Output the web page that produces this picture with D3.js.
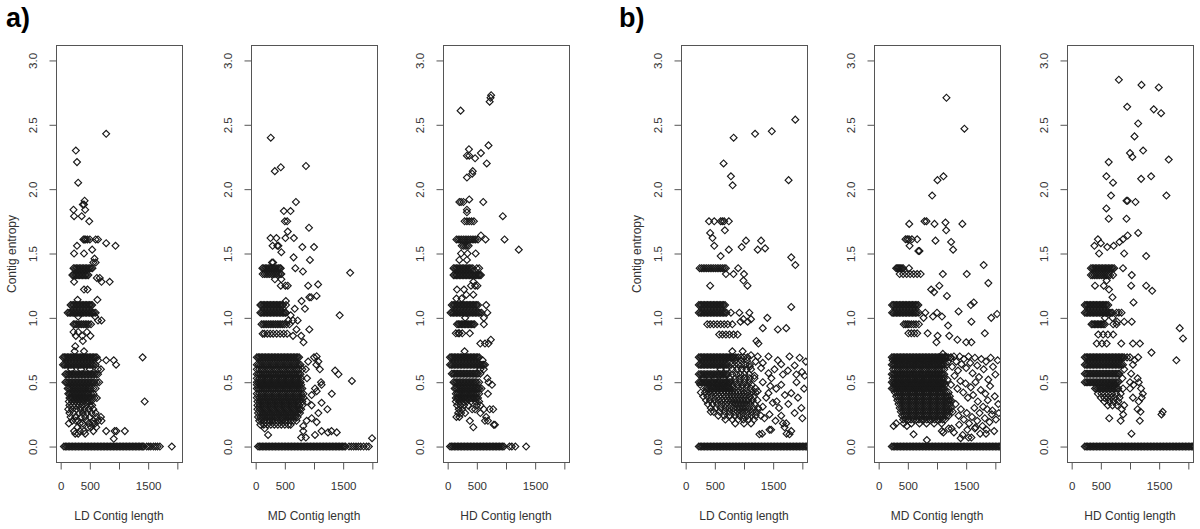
<!DOCTYPE html>
<html><head><meta charset="utf-8">
<script src="https://cdn.jsdelivr.net/npm/d3@7"></script>
<style>body{margin:0;background:#fff}svg{display:block}</style>
</head><body><svg id="c" width="1200" height="529"></svg>
<script>
// ---------- labels / ticks ----------
const groupLabels = ["a)", "b)"];
const xTitles = ["LD Contig length", "MD Contig length", "HD Contig length"];
const yTitle = "Contig entropy";
const xTicks = [0, 500, 1000, 1500, 2000];
const xTickLabels = ["0", "500", "", "1500", ""];
const yTicks = [0, 0.5, 1, 1.5, 2, 2.5, 3];
const yTickLabels = ["0.0", "0.5", "1.0", "1.5", "2.0", "2.5", "3.0"];

// ---------- data: rows of [entropy, [contig lengths]] ----------
const aLD = [
 [0.000,[55,80,105,130,155,180,205,230,255,280,305,330,355,380,405,430,455,480,505,530,555,580,605,630,655,680,705,730,755,780,805,830,855,880,905,930,955,980,1005,1030,1055,1080,1105,1130,1155,1180,1205,1230,1255,1280,1305,1330,1355,1380,1405,1425,1475,1510,1545,1590,1625,1660,1700,1905]],
 [0.06,[910]],
 [0.10,[250,300,420]],
 [0.12,[230,330,400,560,780,925,955,1100]],
 [0.15,[290,470,520,610]],
 [0.18,[140,330,380,480,550,590]],
 [0.20,[200,260,300,440,560,640,700]],
 [0.23,[170,250,350,420,500,620,690]],
 [0.26,[150,220,320,380,450,530,600]],
 [0.29,[130,200,270,340,410,480,560]],
 [0.32,[150,210,260,310,370,430,500,540]],
 [0.35,[140,200,250,300,350,400,460,520,1440]],
 [0.377,[150,175,200,225,250,275,300,325,350,375,400,425,450,475,500,540,580,620]],
 [0.410,[130,155,180,205,230,255,280,305,330,355,380,405,430,455,480,520,560]],
 [0.451,[120,145,170,195,220,245,270,295,320,345,370,395,420,445,470,495,520,560,600]],
 [0.500,[80,105,130,155,180,205,230,255,280,305,330,355,380,405,430,455,480,505,530,555,580,620,660]],
 [0.562,[80,105,130,155,180,205,230,255,280,305,330,355,380,405,430,455,480,505,530,555,580,610,640]],
 [0.60,[180,350,500,640,690]],
 [0.636,[40,65,90,115,140,165,190,215,240,265,290,315,340,365,390,415,440,465,490,515,540,565,600,950]],
 [0.67,[640,780,910]],
 [0.693,[40,65,90,115,140,165,190,215,240,265,290,315,340,365,390,415,440,465,490,515,540,565,590,620,1405]],
 [0.74,[240,400]],
 [0.78,[250]],
 [0.82,[380]],
 [0.86,[260,370,510]],
 [0.89,[220,300,450]],
 [0.950,[220,245,270,300,330,360,390,420,450,480,520]],
 [0.98,[640,700]],
 [1.01,[300,590]],
 [1.040,[120,145,170,195,220,245,270,295,320,345,370,395,420,445,470,495,520,545,570,600]],
 [1.099,[170,195,220,245,270,295,320,345,370,395,420,445,470,495,520,540]],
 [1.14,[290,630]],
 [1.22,[400,460]],
 [1.28,[230,700,840]],
 [1.31,[620,670]],
 [1.332,[200,225,250,275,300,325,350,375,400,425,450,475]],
 [1.386,[220,245,270,295,320,345,370,395,420,445,470,495,520,545]],
 [1.43,[560,600]],
 [1.46,[580]],
 [1.50,[230,400]],
 [1.53,[540]],
 [1.56,[280,940]],
 [1.58,[780]],
 [1.609,[390,410,430,460,500,600,640]],
 [1.75,[490]],
 [1.79,[230,360]],
 [1.84,[220,420]],
 [1.88,[380,400]],
 [1.91,[410]],
 [2.05,[300]],
 [2.21,[280]],
 [2.30,[260]],
 [2.43,[780]]
];

const aMD = [
 [0.000,[40,65,90,115,140,165,190,215,240,265,290,315,340,365,390,415,440,465,490,515,540,565,590,615,640,665,690,715,740,765,790,815,840,865,890,915,940,965,990,1015,1040,1065,1090,1115,1140,1165,1190,1215,1240,1265,1290,1315,1340,1365,1390,1415,1440,1465,1490,1515,1540,1600,1640,1680,1720,1760,1800,1850,1900,1940]],
 [0.065,[1995]],
 [0.07,[780,860]],
 [0.09,[213,1017]],
 [0.11,[1240,1390]],
 [0.12,[816,1130,1300]],
 [0.14,[155]],
 [0.16,[816]],
 [0.17,[80,140,200,260,320,380,440,500,560,600]],
 [0.19,[1046]],
 [0.20,[60,105,150,195,240,285,330,375,420,465,510,555,600,645,700,874]],
 [0.22,[960]],
 [0.23,[40,80,120,160,200,240,280,320,360,400,440,480,520,560,600,640,680,720]],
 [0.26,[40,80,120,160,200,240,280,320,360,400,440,480,520,560,600,640,680,720,760,1075]],
 [0.29,[30,70,110,150,190,230,270,310,350,390,430,470,510,550,590,630,670,710,750,780,1230]],
 [0.32,[30,70,110,150,190,230,270,310,350,390,430,470,510,550,590,630,670,710,750,800,960]],
 [0.34,[1130]],
 [0.35,[30,70,110,150,190,230,270,310,350,390,430,470,510,550,590,630,670,710,750,800,880]],
 [0.38,[20,60,100,140,180,220,260,300,340,380,420,460,500,540,580,620,660,700,740,780,820]],
 [0.40,[960]],
 [0.41,[20,60,100,140,180,220,260,300,340,380,420,460,500,540,580,620,660,700,740,780,820,1305]],
 [0.43,[1046]],
 [0.451,[20,50,80,110,140,170,200,230,260,290,320,350,380,410,440,470,500,530,560,590,620,650,680,710,740,770,800,1017]],
 [0.48,[20,60,100,140,180,220,260,300,340,380,420,460,500,540,580,620,660,700,740,780,1130]],
 [0.500,[20,50,80,110,140,170,200,230,260,290,320,350,380,410,440,470,500,530,560,590,620,650,680,710,740,770,1120]],
 [0.51,[1650]],
 [0.53,[20,60,100,140,180,220,260,300,340,380,420,460,500,540,580,620,660,700,740,780,880]],
 [0.562,[20,50,80,110,140,170,200,230,260,290,320,350,380,410,440,470,500,530,560,590,620,650,680,710,740,770,1420]],
 [0.59,[1362]],
 [0.60,[20,60,100,140,180,220,260,300,340,380,420,460,500,540,580,620,660,700,740,800,860,1100]],
 [0.636,[20,50,80,110,140,170,200,230,260,290,320,350,380,410,440,470,500,530,560,590,620,650,680,710,740,770,1040]],
 [0.66,[900,1075]],
 [0.693,[20,45,70,95,120,145,170,195,220,245,270,295,320,345,370,395,420,445,470,495,520,545,570,595,620,645,670,695,720,745,1000]],
 [0.70,[1046]],
 [0.81,[820]],
 [0.86,[640,780]],
 [0.877,[120,150,200,250,300,360,420,480,540]],
 [0.91,[700,920]],
 [0.950,[100,130,160,190,220,250,280,310,340,370,400,430,460,490,530,580]],
 [0.98,[560,640,720]],
 [1.02,[600,1440]],
 [1.040,[80,105,130,155,180,205,230,255,280,305,330,355,380,405,430,455,480,505,520]],
 [1.07,[670,845]],
 [1.099,[80,105,130,155,180,205,230,255,280,305,330,355,380,405,430,455,470,520]],
 [1.13,[517,787]],
 [1.16,[920,950]],
 [1.17,[1045]],
 [1.25,[430,510,550,900]],
 [1.26,[1070]],
 [1.30,[330,440]],
 [1.34,[120,150,180,210,240,270,300,330,360,390,420,440]],
 [1.35,[1620]],
 [1.36,[810]],
 [1.386,[115,140,165,190,215,240,265,290,315,340,365,390,415,430,680]],
 [1.43,[280,300]],
 [1.45,[930]],
 [1.47,[650]],
 [1.51,[440]],
 [1.55,[800,1000]],
 [1.56,[290,370,390]],
 [1.62,[255,356,510,655]],
 [1.67,[550]],
 [1.70,[914]],
 [1.75,[500,540]],
 [1.83,[483,598]],
 [1.90,[690]],
 [2.14,[328]],
 [2.17,[431]],
 [2.18,[862]],
 [2.40,[259]]
];

const aHD = [
 [0.000,[40,65,90,115,140,165,190,215,240,265,290,315,340,365,390,415,440,465,490,515,540,565,590,615,640,665,690,715,740,765,790,815,840,865,890,915,940,965,1060,1100,1160,1345]],
 [0.15,[440]],
 [0.17,[790,810]],
 [0.20,[380,640,690]],
 [0.23,[150,200,660]],
 [0.26,[180,230,300,560]],
 [0.29,[190,250,420,470,620,720,780]],
 [0.32,[160,220,280,350,500,560]],
 [0.35,[140,200,270,330,400,480,540]],
 [0.377,[140,165,190,215,240,265,290,315,340,365,390,415,440,465,490,520]],
 [0.41,[140,170,200,230,260,290,320,350,380,410,440,470,500,540,690]],
 [0.451,[120,145,170,195,220,245,270,295,320,345,370,395,420,445,470,495,520,545,580]],
 [0.48,[760]],
 [0.500,[100,125,150,175,200,225,250,275,300,325,350,375,400,425,450,475,500,540,700]],
 [0.53,[680]],
 [0.566,[70,95,120,145,170,195,220,245,270,295,320,345,370,395,420,445,470,495,520,560]],
 [0.60,[560,620]],
 [0.636,[40,65,90,115,140,165,190,215,240,265,290,315,340,365,390,415,440,465,490,515,540,565,590,615,640]],
 [0.67,[600]],
 [0.693,[40,65,90,115,140,165,190,215,240,265,290,315,340,365,390,415,440,465,490,515,540]],
 [0.74,[290]],
 [0.80,[560,640,700]],
 [0.83,[740]],
 [0.88,[140,180,200,250,380]],
 [0.950,[160,185,210,235,260,285,310,335,360,385,410,435,460,620]],
 [1.00,[300,620]],
 [1.040,[50,75,100,125,150,175,200,225,250,275,300,325,350,375,400,425,450,475,500,525,550,580,680]],
 [1.099,[70,95,120,145,170,195,220,245,270,295,320,345,370,395,420,445,470,495,520,660]],
 [1.15,[150,240]],
 [1.18,[320,440]],
 [1.22,[160,280]],
 [1.25,[400,470,510]],
 [1.28,[440]],
 [1.332,[100,125,150,175,200,225,250,275,300,325,350,375,400,425,450,475,500,525,550,570]],
 [1.386,[100,125,150,175,200,225,250,275,300,325,350,375,400,430,500,540]],
 [1.45,[200,330]],
 [1.50,[230,340,480]],
 [1.53,[1219]],
 [1.56,[240,270,300,330,360]],
 [1.609,[150,180,210,240,270,300,330,360,390,420,450,480,520,650,975]],
 [1.64,[570]],
 [1.75,[290,330,370,410,450]],
 [1.79,[945]],
 [1.82,[330]],
 [1.84,[330]],
 [1.90,[200,230,270,610]],
 [1.92,[370]],
 [2.09,[330]],
 [2.12,[420]],
 [2.14,[430]],
 [2.20,[670]],
 [2.24,[470]],
 [2.26,[330,370]],
 [2.28,[570]],
 [2.31,[365]],
 [2.34,[700]],
 [2.61,[222]],
 [2.68,[720]],
 [2.71,[735]],
 [2.73,[745]]
];

const bLD = [
 [0.000,[225,250,275,300,325,350,375,400,425,450,475,500,525,550,575,600,625,650,675,700,725,750,775,800,825,850,875,900,925,950,975,1000,1025,1050,1075,1100,1125,1150,1175,1200,1225,1250,1275,1300,1325,1350,1375,1400,1425,1450,1475,1500,1525,1550,1575,1600,1625,1650,1675,1700,1725,1750,1775,1800,1825,1850,1875,1900,1925,1950,1975,2000,2025,2050,2075,2100]],
 [0.18,[850,1000,1120]],
 [0.21,[680,800,900,990,1080,1170]],
 [0.24,[560,660,760,840,920,990,1060,1130,1200,1290]],
 [0.27,[430,480,580,670,750,830,890,950,1010,1070,1140,1210]],
 [0.30,[430,520,600,680,750,820,880,930,980,1030,1090,1160,1240]],
 [0.33,[380,460,540,610,680,740,800,850,900,950,1000,1050,1110,1180]],
 [0.36,[350,420,490,560,620,680,730,780,830,880,930,980,1030,1080,1150,1230]],
 [0.39,[300,370,440,510,570,630,690,740,790,840,890,940,990,1040,1100,1170]],
 [0.42,[260,330,400,460,520,580,640,700,750,800,850,900,950,1000,1060,1130,1200]],
 [0.451,[350,375,400,425,450,475,500,525,550,575,600,625,650,675,700,725,750,775,830,900,970,1040,1120,1200]],
 [0.48,[250,400,540,640,730,810,890,970,1050,1130]],
 [0.500,[225,250,275,300,325,350,375,400,425,450,475,500,525,550,575,600,625,650,675,700,725,750,775,850,930,1010,1090]],
 [0.53,[300,500,650,760,850,930,1010,1100,1180]],
 [0.562,[225,250,275,300,325,350,375,400,425,450,475,500,525,550,575,600,625,650,675,700,725,800,870,940,1010,1090]],
 [0.60,[600,700,800,880,960,1040,1120]],
 [0.636,[225,250,275,300,325,350,375,400,425,450,475,500,525,550,575,600,625,650,675,700,725,780,840,900,960,1030,1100]],
 [0.67,[850,950,1050]],
 [0.693,[225,250,275,300,325,350,375,400,425,450,475,500,525,550,575,600,625,650,675,700,725,750,775,800,825,860,900,950,1000,1060]],
 [0.74,[800]],
 [0.80,[1247]],
 [0.82,[1213]],
 [0.87,[575,630,690,750,820,890]],
 [0.91,[1580]],
 [0.92,[1322,1724]],
 [0.950,[370,420,480,540,600,660,720,800]],
 [0.97,[940,1063]],
 [0.99,[990,1120]],
 [1.00,[1400]],
 [1.040,[225,250,275,300,325,350,375,400,425,450,475,500,525,550,575,600,625,650,675,700,776,920,1092]],
 [1.085,[1810]],
 [1.099,[225,250,275,300,325,350,375,400,425,450,475,500,525,550,575,600,625,650,675]],
 [1.25,[420,1060]],
 [1.29,[990]],
 [1.34,[690,820,1000]],
 [1.386,[240,270,300,330,360,390,420,450,480,510,540,570,600,630,660,690,900]],
 [1.41,[1880]],
 [1.47,[1810]],
 [1.48,[600]],
 [1.53,[740,1235]],
 [1.54,[1362]],
 [1.55,[960]],
 [1.56,[490]],
 [1.60,[1034,1293]],
 [1.62,[460]],
 [1.66,[420]],
 [1.68,[672]],
 [1.75,[400,490,600,630,660,740]],
 [2.03,[805]],
 [2.07,[1764]],
 [2.10,[776]],
 [2.20,[650]],
 [2.40,[822]],
 [2.43,[1190]],
 [2.45,[1477]],
 [2.54,[1879]]
];
// bLD: isolated contigs to the right of the dense core, [length, entropy]
const bLDscatter = [
 [977,0.74],[1120,0.71],[1235,0.70],[1322,0.65],[1420,0.70],[1580,0.67],[1638,0.64],[1780,0.70],
 [1868,0.63],[1954,0.69],[2060,0.66],[1293,0.61],[1420,0.57],[1523,0.60],[1667,0.56],[1753,0.59],
 [1897,0.56],[1994,0.58],[1180,0.55],[1322,0.50],[1470,0.53],[1552,0.45],[1638,0.48],[1810,0.415],
 [1925,0.38],[1983,0.30],[1420,0.415],[1494,0.34],[1380,0.38],[1235,0.43],[1247,0.29],[1350,0.22],
 [1437,0.25],[1322,0.31],[1638,0.24],[1724,0.18],[1868,0.26],[1695,0.15],[1810,0.12],[1465,0.13],
 [1265,0.095],[1310,0.10],[1730,0.10],[1780,0.095],[1667,0.18],[1560,0.35],[1700,0.40],[2030,0.45],
 [1900,0.50],[2040,0.55],[1450,0.47],[1600,0.30],[1540,0.20],[1760,0.33],[2000,0.22],[1100,0.62],
 [1200,0.66],[1437,0.13]
];

const bMD = [
 [0.000,[225,250,275,300,325,350,375,400,425,450,475,500,525,550,575,600,625,650,675,700,725,750,775,800,825,850,875,900,925,950,975,1000,1025,1050,1075,1100,1125,1150,1175,1200,1225,1250,1275,1300,1325,1350,1375,1400,1425,1450,1475,1500,1525,1550,1575,1600,1625,1650,1675,1700,1725,1750,1775,1800,1825,1850,1875,1900,1925,1950,1975,2000,2025,2050,2075,2100]],
 [0.05,[826]],
 [0.095,[598]],
 [0.12,[1083]],
 [0.16,[256,484]],
 [0.18,[300,430,560,700,820,950,1080]],
 [0.21,[420,465,510,555,600,645,690,735,780,825,870,915,960,1005,1050,1095,1140]],
 [0.24,[400,440,480,520,560,600,640,680,720,760,800,840,880,920,960,1000,1040,1080,1120,1160,1200]],
 [0.27,[380,420,460,500,540,580,620,660,700,740,780,820,860,900,940,980,1020,1060,1100,1140,1180,1220]],
 [0.30,[360,400,440,480,520,560,600,640,680,720,760,800,840,880,920,960,1000,1040,1080,1120,1160,1200,1240]],
 [0.33,[340,380,420,460,500,540,580,620,660,700,740,780,820,860,900,940,980,1020,1060,1100,1140,1180,1220]],
 [0.36,[320,360,400,440,480,520,560,600,640,680,720,760,800,840,880,920,960,1000,1040,1080,1120,1160,1200,1240]],
 [0.39,[300,340,380,420,460,500,540,580,620,660,700,740,780,820,860,900,940,980,1020,1060,1100,1140,1180,1220]],
 [0.42,[280,320,360,400,440,480,520,560,600,640,680,720,760,800,840,880,920,960,1000,1040,1080,1120,1160,1200]],
 [0.451,[225,250,275,300,325,350,375,400,425,450,475,500,525,550,575,600,625,650,675,700,725,750,775,800,825,850,875,900,925,950,975,1000,1025,1050,1075,1100,1125]],
 [0.48,[260,300,340,380,420,460,500,540,580,620,660,700,740,780,820,860,900,940,980,1020,1060,1100,1140]],
 [0.500,[225,250,275,300,325,350,375,400,425,450,475,500,525,550,575,600,625,650,675,700,725,750,775,800,825,850,875,900,925,950,975,1000,1025,1050,1075,1100,1125]],
 [0.53,[240,280,320,360,400,440,480,520,560,600,640,680,720,760,800,840,880,920,960,1000,1040,1080,1120]],
 [0.562,[225,250,275,300,325,350,375,400,425,450,475,500,525,550,575,600,625,650,675,700,725,750,775,800,825,850,875,900,925,950,975,1000,1025,1050,1075,1100,1125]],
 [0.60,[245,285,325,365,405,445,485,525,565,605,645,685,725,765,805,845,885,925,965,1005,1045,1085,1125]],
 [0.636,[225,250,275,300,325,350,375,400,425,450,475,500,525,550,575,600,625,650,675,700,725,750,775,800,825,850,875,900,925,950,975,1000,1025,1050,1075,1100,1125,1170]],
 [0.67,[240,280,320,360,400,440,480,520,560,600,640,680,720,760,800,840,880,920,960,1000,1040,1080,1120]],
 [0.693,[225,250,275,300,325,350,375,400,425,450,475,500,525,550,575,600,625,650,675,700,725,750,775,800,825,850,875,900,925,950,975,1000,1025,1050,1075,1100,1125,1150,1190,1240]],
 [0.72,[1100]],
 [0.81,[990,1500,1590]],
 [0.83,[1350]],
 [0.86,[1010,1210]],
 [0.88,[510,560,610,660,840,1820]],
 [0.94,[1190]],
 [0.950,[430,460,490,520,560,600,640,690]],
 [0.97,[1590]],
 [1.00,[770,1930]],
 [1.01,[930,1085]],
 [1.03,[2030]],
 [1.040,[230,255,280,305,330,355,380,405,430,455,480,505,530,555,580,605,630,655,690,800,1000]],
 [1.05,[1370]],
 [1.099,[230,255,280,305,330,355,380,405,430,455,480,505,530,555,580,605,630,655,680]],
 [1.10,[1580]],
 [1.12,[1630]],
 [1.17,[1170]],
 [1.20,[950]],
 [1.22,[900]],
 [1.25,[1040]],
 [1.27,[1880]],
 [1.34,[360,420,480,540,600,660,720,1100,1510]],
 [1.386,[300,320,340,360,380,400,420,520]],
 [1.41,[1800]],
 [1.52,[680,700]],
 [1.53,[1276]],
 [1.56,[530]],
 [1.59,[1242]],
 [1.60,[974]],
 [1.61,[460,490,520,570,660]],
 [1.68,[1157]],
 [1.73,[524,957,1435]],
 [1.74,[1145]],
 [1.75,[786,820]],
 [1.95,[917]],
 [2.07,[1008]],
 [2.10,[1111]],
 [2.47,[1470]],
 [2.71,[1162]]
];
// bMD: isolated contigs to the right of the dense core, [length, entropy]
const bMDscatter = [
 [1150,0.70],[1190,0.66],[1230,0.69],[1260,0.62],[1290,0.70],[1330,0.66],[1360,0.59],[1390,0.70],
 [1420,0.64],[1460,0.68],[1500,0.61],[1540,0.70],[1570,0.65],[1610,0.57],[1650,0.69],[1690,0.63],
 [1720,0.54],[1760,0.68],[1800,0.60],[1840,0.66],[1880,0.52],[1920,0.69],[1960,0.62],[2000,0.56],
 [2040,0.67],[1180,0.52],[1240,0.48],[1300,0.55],[1350,0.45],[1400,0.51],[1450,0.42],[1490,0.49],
 [1530,0.38],[1580,0.46],[1620,0.40],[1660,0.50],[1700,0.35],[1750,0.44],[1790,0.31],[1830,0.41],
 [1870,0.36],[1910,0.47],[1950,0.28],[1990,0.39],[2050,0.33],[1160,0.30],[1210,0.36],[1270,0.27],
 [1320,0.33],[1370,0.24],[1410,0.29],[1460,0.21],[1510,0.26],[1550,0.18],[1600,0.23],[1640,0.30],
 [1690,0.20],[1730,0.26],[1780,0.16],[1820,0.22],[1860,0.29],[1900,0.19],[1940,0.25],[2010,0.21],
 [2060,0.26],[1200,0.14],[1290,0.11],[1380,0.17],[1440,0.09],[1520,0.13],[1590,0.07],[1660,0.15],
 [1740,0.10],[1850,0.13],[1980,0.12],[1405,0.065],[1540,0.07],[1840,0.10],[1110,0.11],[1250,0.14],
 [1650,0.14]
];

const bHD = [
 [0.000,[225,250,275,300,325,350,375,400,425,450,475,500,525,550,575,600,625,650,675,700,725,750,775,800,825,850,875,900,925,950,975,1000,1025,1050,1075,1100,1125,1150,1175,1200,1225,1250,1275,1300,1325,1350,1375,1400,1425,1450,1475,1500,1525,1550,1575,1600,1625,1650,1675,1700,1725,1750,1775,1800,1825,1850,1875,1900,1925,1950,1975,2000,2025,2050,2075,2100]],
 [0.10,[1025]],
 [0.20,[840,1168]],
 [0.22,[644]],
 [0.25,[883,1540]],
 [0.27,[1180,1560]],
 [0.29,[860,1130]],
 [0.32,[620,700,780,900]],
 [0.35,[560,640,720,800,1150]],
 [0.38,[500,560,620,680,740,820,1050,1200]],
 [0.41,[450,510,570,630,690,760,840,1220]],
 [0.451,[400,425,450,475,500,525,550,575,600,625,650,675,700,725,750,775,800,880,1000,1190]],
 [0.48,[650,750,1060]],
 [0.500,[225,250,275,300,325,350,375,400,425,450,475,500,525,550,575,600,625,650,675,700,725,750,775,800,1000,1150]],
 [0.53,[870,1130]],
 [0.566,[225,250,275,300,325,350,375,400,425,450,475,500,525,550,575,600,625,650,675,700,725,750,775,800,820,1020]],
 [0.60,[900]],
 [0.636,[225,250,275,300,325,350,375,400,425,450,475,500,525,550,575,600,625,650,675,700,725,750,775,800,825,850,880,1050]],
 [0.67,[1080,1795]],
 [0.693,[225,250,275,300,325,350,375,400,425,450,475,500,525,550,575,600,625,650,675,700,725,750,775,800,825,850,875,900,950,1000,1140]],
 [0.73,[1368]],
 [0.80,[430,520,600,850,1050,1170]],
 [0.84,[1909]],
 [0.87,[456,540,620,712]],
 [0.92,[1852]],
 [0.950,[340,365,390,415,440,465,490,515,540,570,712,770]],
 [0.97,[780,900,1030]],
 [1.00,[570,700]],
 [1.040,[225,250,275,300,325,350,375,400,425,450,475,500,525,550,575,600,625,650,675,700,770,810,855]],
 [1.099,[225,250,275,300,325,350,375,400,425,450,475,500,525,550,575,600,627]],
 [1.12,[1060]],
 [1.16,[700]],
 [1.21,[1380]],
 [1.22,[640]],
 [1.25,[400,550,1020,1277]],
 [1.29,[600]],
 [1.332,[330,360,390,420,450,480,510,540,570,600,630,660,710,1030]],
 [1.386,[330,355,380,405,430,455,480,505,530,555,580,605,630,655,680,705,730,880]],
 [1.48,[1277]],
 [1.50,[470,900]],
 [1.55,[610]],
 [1.56,[390,720]],
 [1.58,[500]],
 [1.59,[820]],
 [1.61,[450,880]],
 [1.64,[960]],
 [1.66,[1140]],
 [1.77,[635,940]],
 [1.85,[595]],
 [1.90,[1094]],
 [1.91,[940,960]],
 [1.95,[675,1624]],
 [2.05,[709]],
 [2.08,[1191]],
 [2.10,[595,1362]],
 [2.21,[635]],
 [2.23,[1664]],
 [2.25,[1040]],
 [2.28,[1000]],
 [2.30,[1225]],
 [2.41,[1077]],
 [2.51,[1140]],
 [2.59,[1533]],
 [2.62,[1407]],
 [2.64,[952]],
 [2.79,[1493]],
 [2.81,[1197]],
 [2.85,[809]]
];

// ---------- layout ----------
const panelRows = [aLD, aMD, aHD, bLD, bMD, bHD];
const panelScatter = [[], [], [], bLDscatter, bMDscatter, []];
const panelLefts = [56, 251, 443, 681, 874, 1067];
const W = 126, TOP = 45, BOTTOM = 462;
const ink = "#333", boxInk = "#555", markInk = "#1a1a1a";
const FONT = "'Liberation Sans', Arial, sans-serif";

const svg = d3.select("#c");
const defs = svg.append("defs");
const marker = d3.symbol(d3.symbolSquare, 24)();

panelRows.forEach((rows, i) => {
  const left = panelLefts[i];
  const x = d3.scaleLinear().domain([-80, 2080]).range([left, left + W]);
  const y = d3.scaleLinear().domain([-0.12, 3.12]).range([BOTTOM, TOP]);
  const g = svg.append("g");
  const cid = "clip" + i;
  defs.append("clipPath").attr("id", cid).append("rect")
    .attr("x", left).attr("y", TOP).attr("width", W).attr("height", BOTTOM - TOP);

  const pts = rows.flatMap(([e, xs]) => xs.map(v => [v, e])).concat(panelScatter[i]);
  g.append("g").attr("clip-path", `url(#${cid})`)
    .selectAll("path").data(pts).join("path")
    .attr("d", marker)
    .attr("transform", d => `translate(${x(d[0])},${y(d[1])}) rotate(45)`)
    .attr("fill", "none").attr("stroke", markInk).attr("stroke-width", 1.15);

  // frame
  g.append("rect").attr("x", left + 0.5).attr("y", TOP + 0.5)
    .attr("width", W).attr("height", BOTTOM - TOP)
    .attr("fill", "none").attr("stroke", boxInk).attr("stroke-width", 1);

  // x axis
  const xa = g.append("g").attr("transform", `translate(0,${BOTTOM + 0.5})`)
    .call(d3.axisBottom(x).tickValues(xTicks).tickSize(7)
      .tickFormat((d, j) => xTickLabels[j]));
  xa.select(".domain").remove();
  xa.append("line").attr("x1", x(0)).attr("x2", x(2000)).attr("stroke", boxInk);
  xa.selectAll(".tick line").attr("stroke", boxInk);
  xa.selectAll(".tick text").attr("y", 23).attr("dy", "0.35em")
    .attr("fill", ink).style("font", `11.5px ${FONT}`);

  // y axis
  const ya = g.append("g").attr("transform", `translate(${left + 0.5},0)`)
    .call(d3.axisLeft(y).tickValues(yTicks).tickSize(7)
      .tickFormat((d, j) => yTickLabels[j]));
  ya.select(".domain").remove();
  ya.append("line").attr("y1", y(0)).attr("y2", y(3)).attr("stroke", boxInk);
  ya.selectAll(".tick line").attr("stroke", boxInk);
  ya.selectAll(".tick text").attr("transform", "rotate(-90)")
    .attr("x", 0).attr("y", -24).attr("dy", "0.35em")
    .attr("text-anchor", "middle").attr("fill", ink).style("font", `11.5px ${FONT}`);

  // x title
  g.append("text").attr("x", left + W / 2).attr("y", 516).attr("dy", "0.35em")
    .attr("text-anchor", "middle").attr("fill", ink)
    .style("font", `12px ${FONT}`).text(xTitles[i % 3]);

  if (i % 3 === 0) {
    const tx = left - 44;
    svg.append("text").attr("transform", `translate(${tx},254) rotate(-90)`)
      .attr("text-anchor", "middle").attr("dy", "0.35em").attr("fill", ink)
      .style("font", `12px ${FONT}`).text(yTitle);
    svg.append("text").attr("x", i === 0 ? 6 : 619).attr("y", 27)
      .attr("fill", "#000").style("font", `bold 27px ${FONT}`)
      .text(groupLabels[i / 3]);
  }
});
</script></body></html>
